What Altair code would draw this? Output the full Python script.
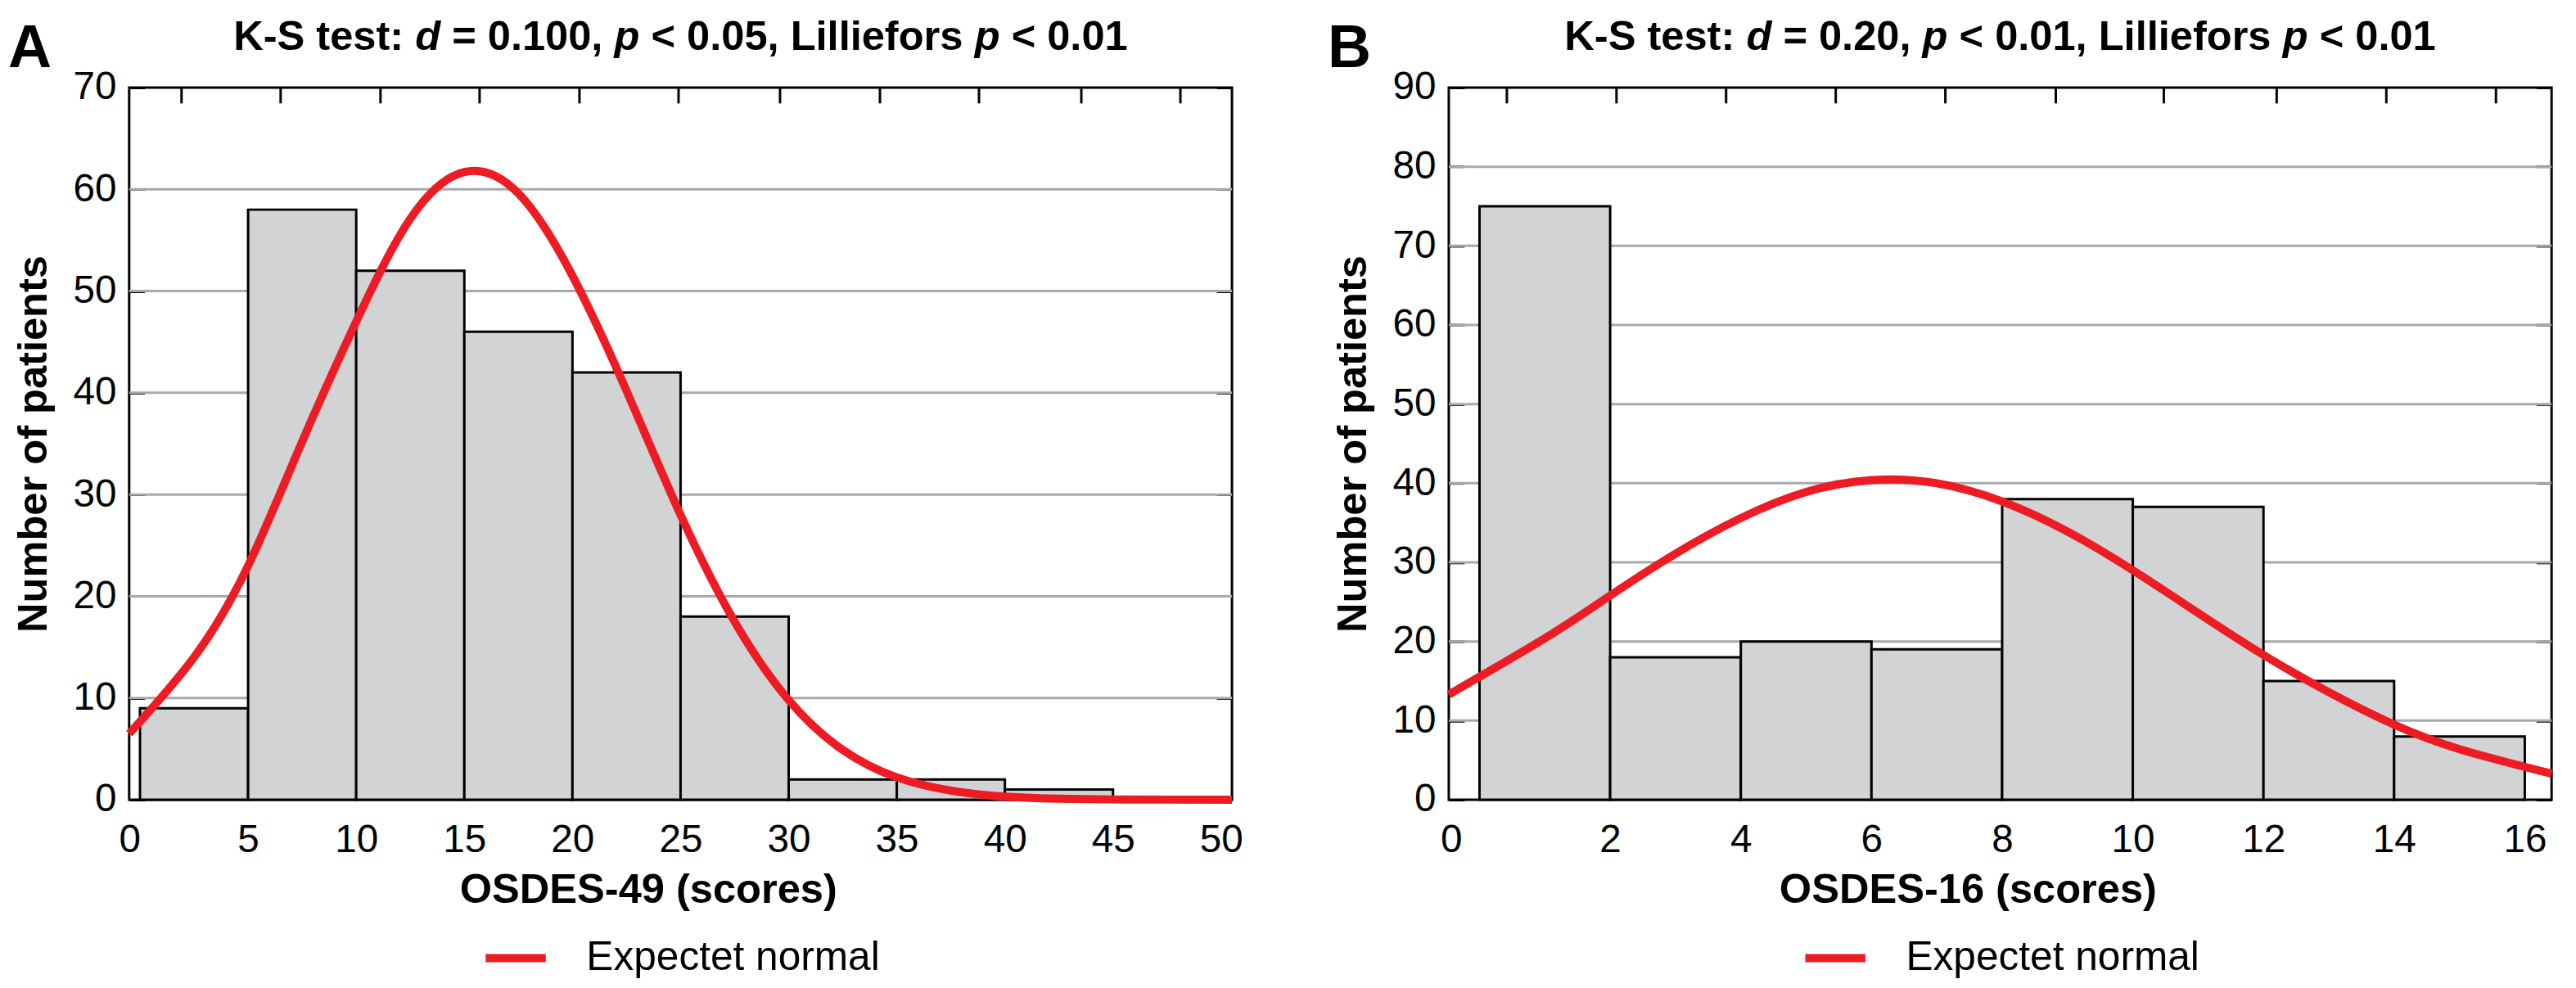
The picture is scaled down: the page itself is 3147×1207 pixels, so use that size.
import altair as alt
import pandas as pd

# ---------------- data ----------------
letters = ["A", "B"]
legend_label = "Expectet normal"
y_title = "Number of patients"

# Panel A
a_title = [("K-S test: ", "normal"), ("d", "italic"), (" = 0.100, ", "normal"), ("p", "italic"),
           (" < 0.05, Lilliefors ", "normal"), ("p", "italic"), (" < 0.01", "normal")]
a_xtitle = "OSDES-49 (scores)"
a_bin_lo = [0, 5, 10, 15, 20, 25, 30, 35, 40]
a_bin_hi = [5, 10, 15, 20, 25, 30, 35, 40, 45]
a_counts = [9, 58, 52, 46, 42, 18, 2, 2, 1]
a_curve_x = [-0.5, 2.5, 5, 7.5, 10, 12.5, 15, 17.5, 20, 22.5, 25, 27.5, 30, 32.5, 35, 37.5, 40,
             42.5, 45, 47.5, 50.5]
a_curve_y = [6.5, 14.0, 23.0, 35.2, 47.0, 57.1, 61.7, 59.6, 51.5, 40.2, 28.0, 17.5, 9.8, 4.9, 2.2,
             0.9, 0.3, 0.1, 0.03, 0.01, 0.0]
a_x_domain = [-0.5, 50.5]
a_y_domain = [0, 70]
a_x_ticks = [0, 5, 10, 15, 20, 25, 30, 35, 40, 45, 50]
a_y_ticks = [0, 10, 20, 30, 40, 50, 60, 70]
a_top_ticks = [1.9, 6.5, 11.1, 15.7, 20.3, 24.9, 29.6, 34.2, 38.8, 43.5, 48.1]
a_grid = [10, 20, 30, 40, 50, 60]

# Panel B
b_title = [("K-S test: ", "normal"), ("d", "italic"), (" = 0.20, ", "normal"), ("p", "italic"),
           (" < 0.01, Lilliefors ", "normal"), ("p", "italic"), (" < 0.01", "normal")]
b_xtitle = "OSDES-16 (scores)"
b_bin_lo = [0, 2, 4, 6, 8, 10, 12, 14]
b_bin_hi = [2, 4, 6, 8, 10, 12, 14, 16]
b_counts = [75, 18, 20, 19, 38, 37, 15, 8]
b_curve_x = [-0.47, 1, 2, 3, 4, 5, 6, 7, 8, 9, 10, 11, 12, 13, 14, 15, 16.41]
b_curve_y = [13.3, 20.4, 25.8, 31.1, 35.6, 38.9, 40.4, 40.0, 37.7, 33.9, 29.0, 23.6, 18.3, 13.6,
             9.5, 6.4, 3.3]
b_x_domain = [-0.47, 16.41]
b_y_domain = [0, 90]
b_x_ticks = [0, 2, 4, 6, 8, 10, 12, 14, 16]
b_y_ticks = [0, 10, 20, 30, 40, 50, 60, 70, 80, 90]
b_top_ticks = [0.41, 2.09, 3.77, 5.45, 7.13, 8.81, 10.47, 12.2, 13.88, 15.55]
b_grid = [10, 20, 30, 40, 50, 60, 70, 80]

# ---------------- style ----------------
W, H = 1358, 877
RED = "#ed1c24"
BAR = "#d1d3d4"
GRID = "#a7a9ac"
SANS = "Liberation Sans"
TITLE_FS = 51
TICK_FS = 48
AXTITLE_FS = 51
LEGEND_FS = 50
LETTER_FS = 74

# Liberation Sans (Arial-metric) bold advance widths, em
BOLD_W = {"K": .722, "-": .333, "S": .667, " ": .278, "t": .333, "e": .556, "s": .556, ":": .333,
          "d": .611, "=": .584, ".": .278, ",": .278, "p": .611, "<": .584, "L": .611, "i": .278,
          "l": .278, "f": .333, "o": .611, "r": .389}


def char_w(c):
    if c.isdigit():
        return .556
    return BOLD_W.get(c, .556)


def title_layers(segs):
    full = "".join(s for s, _ in segs)
    total = sum(char_w(c) for c in full) * TITLE_FS
    start = W / 2 - total / 2
    y_top = -46 - 0.79 * TITLE_FS
    layers = []
    pos = 0.0
    for s, style in segs:
        lead = len(s) - len(s.lstrip(" "))
        x = start + (pos + sum(char_w(c) for c in s[:lead])) * TITLE_FS
        txt = s.strip(" ")
        layers.append(
            alt.Chart(pd.DataFrame({"t": [txt]}))
            .mark_text(align="left", baseline="top", font=SANS, fontSize=TITLE_FS,
                       fontWeight="bold", fontStyle=style, color="black")
            .encode(x=alt.value(x), y=alt.value(y_top), text="t:N")
        )
        pos += sum(char_w(c) for c in s)
    return layers


def panel(letter, segs, xtitle, lo, hi, counts, cx, cy, xdom, ydom, xticks, yticks,
          top_ticks, grid_vals, zero_shift):
    xs = alt.Scale(domain=xdom, nice=False, zero=False)
    ys = alt.Scale(domain=ydom, nice=False, zero=False)

    grid = alt.Chart(pd.DataFrame({"v": grid_vals})).mark_rule(
        color=GRID, strokeWidth=3).encode(y=alt.Y("v:Q", scale=ys, axis=None))

    bars = alt.Chart(pd.DataFrame({"lo": lo, "hi": hi, "count": counts})).mark_rect(
        fill=BAR, stroke="black", strokeWidth=3, opacity=1).encode(
        x=alt.X("lo:Q", scale=xs, axis=alt.Axis(
            orient="bottom", values=xticks, title=xtitle, ticks=False, domain=False, grid=False,
            labelPadding=26, labelFlush=False, labelFont=SANS, labelFontSize=TICK_FS,
            labelColor="black",
            labelOffset={"condition": {"test": "datum.value === 0", "value": zero_shift}, "value": 0},
            titleFont=SANS, titleFontSize=AXTITLE_FS, titleFontWeight="bold", titleColor="black",
            titlePadding=12, titleX=W / 2 - 40)),
        x2="hi:Q",
        y=alt.Y("count:Q", scale=ys, axis=alt.Axis(
            orient="left", values=yticks, title=y_title, ticks=True, tickSize=19, offset=-19,
            tickColor="black", tickWidth=3, domain=False, grid=False,
            labelPadding=16, labelFlush=False, labelFont=SANS, labelFontSize=TICK_FS,
            labelColor="black", titleFont=SANS, titleFontSize=AXTITLE_FS, titleFontWeight="bold",
            titleColor="black", titlePadding=22)),
        y2=alt.datum(0),
    )

    curve = alt.Chart(pd.DataFrame({"x": cx, "y": cy, "series": [legend_label] * len(cx)})).mark_line(
        strokeWidth=10, interpolate="natural").encode(
        x=alt.X("x:Q", scale=xs, axis=alt.Axis(
            orient="top", values=top_ticks, labels=False, title=None, ticks=True, tickSize=19,
            offset=-19, tickColor="black", tickWidth=3, domain=False, grid=False)),
        y=alt.Y("y:Q", scale=ys, axis=alt.Axis(
            orient="right", values=yticks, labels=False, title=None, ticks=True, tickSize=19,
            offset=-19, tickColor="black", tickWidth=3, domain=False, grid=False)),
        color=alt.Color("series:N", scale=alt.Scale(domain=[legend_label], range=[RED]),
                        legend=alt.Legend(orient="none", legendX=451, legendY=H + 170, title=None,
                                          symbolType="M-3,0L3,0", symbolSize=609,
                                          symbolStrokeWidth=10, labelFont=SANS,
                                          labelFontSize=LEGEND_FS, labelColor="black",
                                          labelOffset=62, labelLimit=1000, padding=0)),
    )

    letter_mark = alt.Chart(pd.DataFrame({"t": [letter]})).mark_text(
        align="left", baseline="top", font=SANS, fontSize=LETTER_FS, fontWeight="bold",
        color="black").encode(x=alt.value(-149), y=alt.value(-25 - 0.79 * LETTER_FS), text="t:N")

    return alt.layer(grid, bars, curve, *title_layers(segs), letter_mark).resolve_axis(
        x="independent", y="independent").properties(width=W, height=H)


pA = panel(letters[0], a_title, a_xtitle, a_bin_lo, a_bin_hi, a_counts, a_curve_x, a_curve_y,
           a_x_domain, a_y_domain, a_x_ticks, a_y_ticks, a_top_ticks, a_grid, -13)
pB = panel(letters[1], b_title, b_xtitle, b_bin_lo, b_bin_hi, b_counts, b_curve_x, b_curve_y,
           b_x_domain, b_y_domain, b_x_ticks, b_y_ticks, b_top_ticks, b_grid, -35)

chart = alt.hconcat(pA, pB, spacing=94).resolve_scale(color="independent").properties(
    padding={"left": 0, "top": 6, "right": 0, "bottom": 0},
    background="white",
).configure_view(stroke="black", strokeWidth=3)

chart.save("out.html", embed_options={"renderer": "svg", "actions": False})
